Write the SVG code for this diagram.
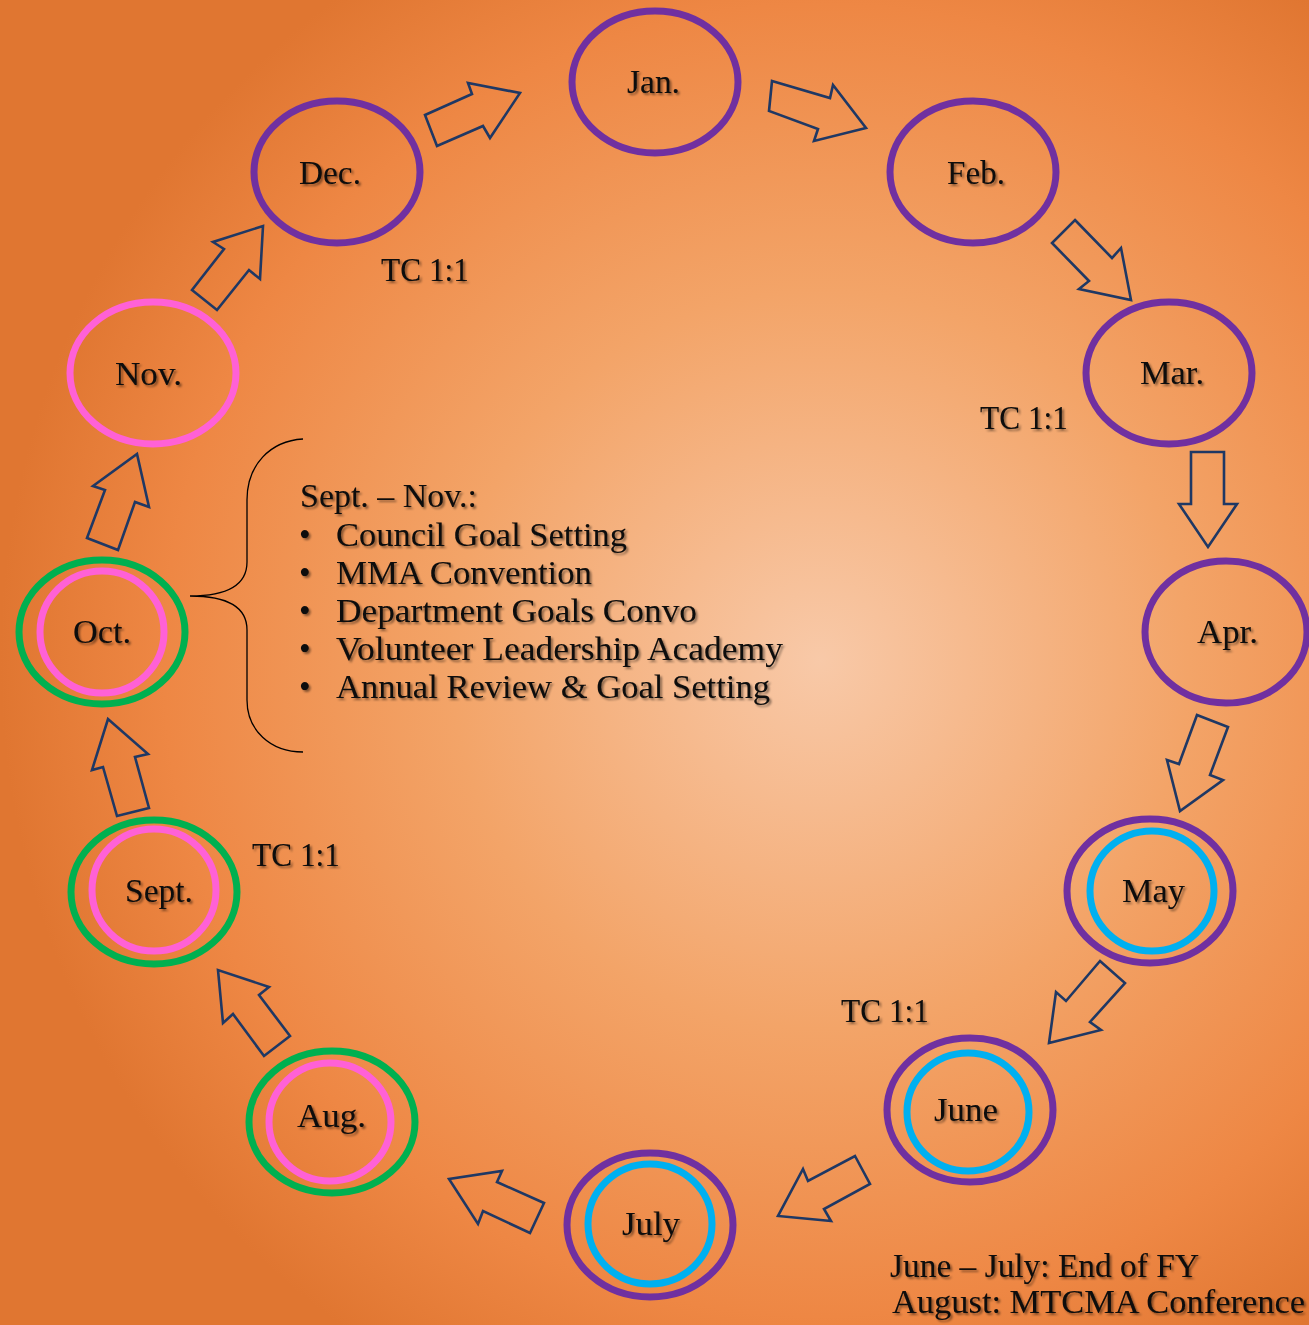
<svg xmlns="http://www.w3.org/2000/svg" width="1309" height="1325" viewBox="0 0 1309 1325">
<defs>
<radialGradient id="bg" cx="820" cy="660" r="820" gradientUnits="userSpaceOnUse">
<stop offset="0" stop-color="#F8C9A8"/>
<stop offset="0.45" stop-color="#F3A468"/>
<stop offset="0.8" stop-color="#EE8744"/>
<stop offset="1" stop-color="#E07631"/>
</radialGradient>
<filter id="sh" x="-10%" y="-30%" width="130%" height="170%">
<feDropShadow dx="2" dy="2" stdDeviation="1.3" flood-color="#000" flood-opacity="0.45"/>
</filter>
</defs>
<style>
.t{font-family:"Liberation Serif","Times New Roman",serif;font-size:33px;fill:#0a0a0a;filter:url(#sh)}
.pu{fill:none;stroke:#7030A0;stroke-width:7}
.cy{fill:none;stroke:#00B0F0;stroke-width:7}
.gr{fill:none;stroke:#00B050;stroke-width:7}
.pk{fill:none;stroke:#FF61D6;stroke-width:7}
.ar{fill:none;stroke:#1F3864;stroke-width:2.6;stroke-linejoin:miter}
.br{fill:none;stroke:#000;stroke-width:1.3}
</style>
<rect width="1309" height="1325" fill="url(#bg)"/>

<g id="connectors">
<polygon class="ar" points="425,115 472,94 468,83 520,93 490,138 483,126 437,146"/>
<polygon class="ar" points="772,81 830,98 833,85 866,128 814,141 818,129 769,111"/>
<polygon class="ar" points="1075,220 1112,258 1121,248 1131,300 1079,289 1089,281 1052,243"/>
<polygon class="ar" points="1191,452 1224,452 1224,504 1237,504 1208,547 1179,504 1191,504"/>
<polygon class="ar" points="1197,715 1228,727 1210,775 1223,780 1180,811 1167,760 1179,764"/>
<polygon class="ar" points="1100,961 1125,983 1090,1022 1101,1030 1049,1043 1056,992 1066,1001"/>
<polygon class="ar" points="855,1156 870,1184 824,1209 831,1221 778,1216 803,1169 808,1181"/>
<polygon class="ar" points="544,1203 530,1233 483,1211 478,1224 449,1179 502,1171 497,1182"/>
<polygon class="ar" points="290,1036 264,1056 233,1014 223,1023 218,970 269,987 259,995"/>
<polygon class="ar" points="149,808 117,816 103,767 92,770 108,719 148,754 135,757"/>
<polygon class="ar" points="87,538 118,550 135,502 149,507 137,454 93,486 105,490"/>
<polygon class="ar" points="192,290 217,310 249,270 260,279 263,226 213,242 224,249"/>
</g>

<g id="jan"><ellipse class="pu" cx="655" cy="82" rx="83" ry="71"/><text class="t" x="627" y="93" textLength="53" lengthAdjust="spacingAndGlyphs">Jan.</text></g>
<g id="feb"><ellipse class="pu" cx="973" cy="172" rx="83" ry="71"/><text class="t" x="947" y="184" textLength="58" lengthAdjust="spacingAndGlyphs">Feb.</text></g>
<g id="mar"><ellipse class="pu" cx="1169" cy="373" rx="83" ry="71"/><text class="t" x="1140" y="384" textLength="64" lengthAdjust="spacingAndGlyphs">Mar.</text></g>
<g id="apr"><ellipse class="pu" cx="1226" cy="632" rx="81" ry="71"/><text class="t" x="1197" y="643" textLength="61" lengthAdjust="spacingAndGlyphs">Apr.</text></g>
<g id="may"><ellipse class="pu" cx="1150" cy="891" rx="83" ry="72"/><ellipse class="cy" cx="1152" cy="891" rx="62" ry="60"/><text class="t" x="1122" y="902" textLength="63" lengthAdjust="spacingAndGlyphs">May</text></g>
<g id="june"><ellipse class="pu" cx="970" cy="1110" rx="83" ry="72"/><ellipse class="cy" cx="968" cy="1112" rx="61" ry="59"/><text class="t" x="934" y="1121" textLength="64" lengthAdjust="spacingAndGlyphs">June</text></g>
<g id="july"><ellipse class="pu" cx="650" cy="1225" rx="83" ry="72"/><ellipse class="cy" cx="650" cy="1224" rx="62" ry="60"/><text class="t" x="622" y="1235" textLength="58" lengthAdjust="spacingAndGlyphs">July</text></g>
<g id="aug"><ellipse class="gr" cx="332" cy="1122" rx="83" ry="71"/><ellipse class="pk" cx="330" cy="1122" rx="61" ry="59"/><text class="t" x="297" y="1127" textLength="69" lengthAdjust="spacingAndGlyphs">Aug.</text></g>
<g id="sept"><ellipse class="gr" cx="154" cy="892" rx="83" ry="72"/><ellipse class="pk" cx="154" cy="890" rx="62" ry="61"/><text class="t" x="125" y="902" textLength="68" lengthAdjust="spacingAndGlyphs">Sept.</text></g>
<g id="oct"><ellipse class="gr" cx="102" cy="632" rx="83" ry="72"/><ellipse class="pk" cx="102" cy="632" rx="62" ry="61"/><text class="t" x="73" y="643" textLength="58" lengthAdjust="spacingAndGlyphs">Oct.</text></g>
<g id="nov"><ellipse class="pk" cx="153" cy="373" rx="83" ry="71"/><text class="t" x="115" y="385" textLength="67" lengthAdjust="spacingAndGlyphs">Nov.</text></g>
<g id="dec"><ellipse class="pu" cx="337" cy="172" rx="83" ry="71"/><text class="t" x="299" y="184" textLength="62" lengthAdjust="spacingAndGlyphs">Dec.</text></g>

<g id="tc-labels">
<text class="t" x="381" y="281" textLength="88" lengthAdjust="spacingAndGlyphs">TC 1:1</text>
<text class="t" x="980" y="429" textLength="88" lengthAdjust="spacingAndGlyphs">TC 1:1</text>
<text class="t" x="252" y="866" textLength="88" lengthAdjust="spacingAndGlyphs">TC 1:1</text>
<text class="t" x="841" y="1022" textLength="88" lengthAdjust="spacingAndGlyphs">TC 1:1</text>
</g>

<g id="sept-nov-note">
<path class="br" d="M303,439 C270,441 247,465 247,500 L247,562 C247,586 225,596 190,596 C225,596 247,606 247,630 L247,700 C247,730 270,752 303,752"/>
<text class="t" x="300" y="507" textLength="177" lengthAdjust="spacingAndGlyphs">Sept. – Nov.:</text>
<text class="t" x="299" y="546">•</text><text class="t" x="336" y="546" textLength="291" lengthAdjust="spacingAndGlyphs">Council Goal Setting</text>
<text class="t" x="299" y="584">•</text><text class="t" x="336" y="584" textLength="256" lengthAdjust="spacingAndGlyphs">MMA Convention</text>
<text class="t" x="299" y="622">•</text><text class="t" x="336" y="622" textLength="361" lengthAdjust="spacingAndGlyphs">Department Goals Convo</text>
<text class="t" x="299" y="660">•</text><text class="t" x="336" y="660" textLength="447" lengthAdjust="spacingAndGlyphs">Volunteer Leadership Academy</text>
<text class="t" x="299" y="698">•</text><text class="t" x="336" y="698" textLength="434" lengthAdjust="spacingAndGlyphs">Annual Review &amp; Goal Setting</text>
</g>

<g id="fy-note">
<text class="t" x="890" y="1277" textLength="309" lengthAdjust="spacingAndGlyphs">June – July: End of FY</text>
<text class="t" x="892" y="1313" textLength="413" lengthAdjust="spacingAndGlyphs">August: MTCMA Conference</text>
</g>
</svg>
